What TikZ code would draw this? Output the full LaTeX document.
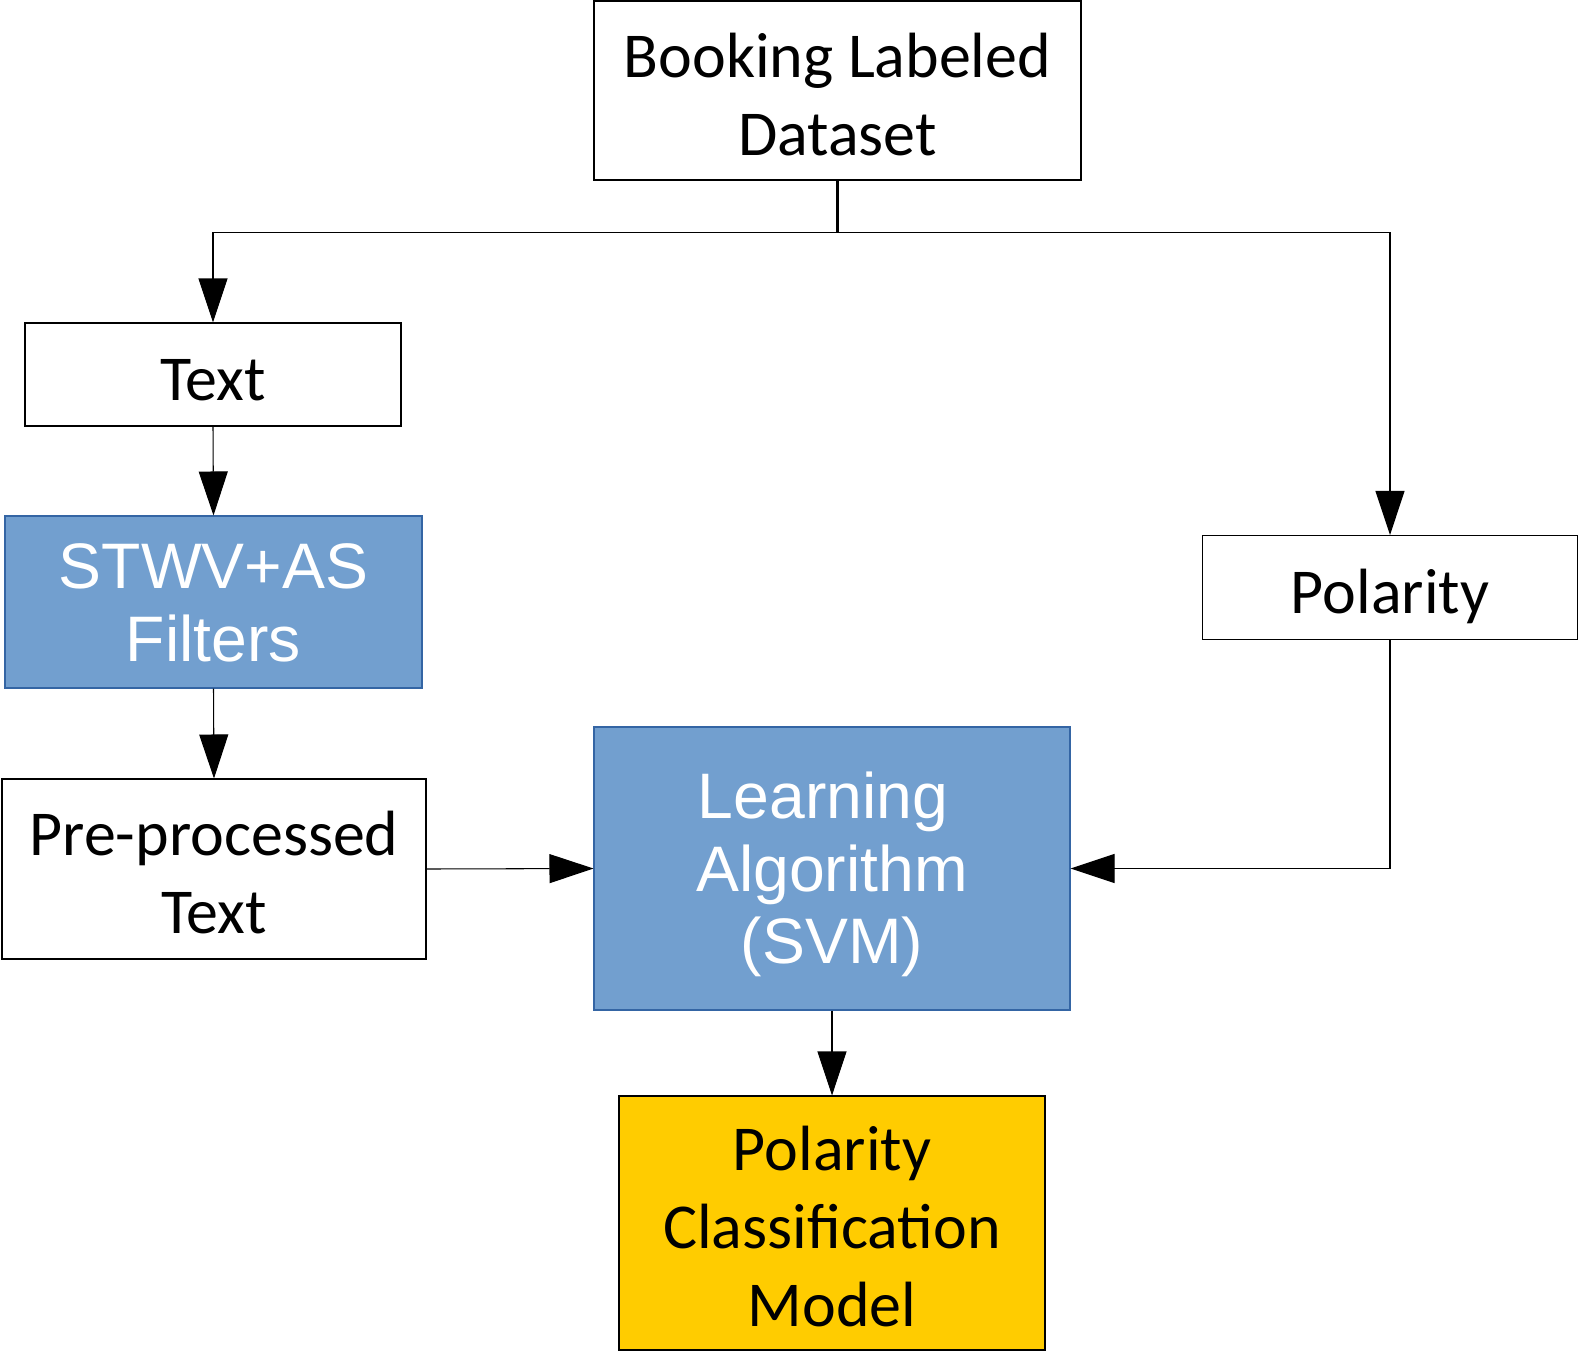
\documentclass[tikz,border=0pt]{standalone}
\usepackage{fontspec}
\setmainfont{Carlito}
\newfontfamily\boxsans{Liberation Sans}
\definecolor{flowBlue}{HTML}{729FCF}
\definecolor{flowBlueEdge}{HTML}{3465A4}
\definecolor{flowYellow}{HTML}{FFCC00}
\usetikzlibrary{arrows.meta, positioning, calc}
\newcommand{\topbs}{\rule[-0.2em]{0pt}{1.21em}}
\newcommand{\bs}{\rule[-0.2em]{0pt}{1.02em}}
\newcommand{\topws}{\rule[-0.212em]{0pt}{1.125em}}
\newcommand{\ws}{\rule[-0.212em]{0pt}{0.905em}}

\begin{document}
\begin{tikzpicture}[
    box/.style={
      draw=black,
      fill=white,
      text=black,
      align=center,
      font=\fontsize{36.4}{44.4}\selectfont,
      line width=0.6pt,
      inner sep=0pt,
    },
    procbox/.style={
      draw=flowBlueEdge,
      fill=flowBlue,
      text=white,
      align=center,
      font=\boxsans\fontsize{36.6}{41.5}\selectfont,
      line width=0.6pt,
      inner sep=0pt,
    },
    modelbox/.style={box, fill=flowYellow},
    arr/.style={-{Triangle[length=0.88cm, width=0.58cm]}, black, line width=0.6pt},
  ]
    \useasboundingbox (0,0) rectangle (31.58,-27.04);

    \node[box, minimum width=9.74cm, minimum height=3.58cm] (book) at (16.75,-1.81) {
      \topbs Booking Labeled\\
      \bs Dataset
    };

    \node[box, minimum width=7.52cm, minimum height=2.06cm] (text) at (4.26,-7.49) {\topbs Text};

    \node[procbox, minimum width=8.34cm, minimum height=3.44cm] (stwv) at (4.27,-12.04) {
      \topws STWV+AS\\
      \ws Filters
    };

    \node[box, minimum width=8.48cm, minimum height=3.6cm] (pre) at (4.28,-17.38) {
      \topbs Pre-processed\\
      \bs Text
    };

    \node[box, minimum width=7.51cm, minimum height=2.08cm] (pol) at (27.8,-11.75) {\topbs Polarity};

    \node[procbox, minimum width=9.52cm, minimum height=5.66cm] (learn) at (16.64,-17.37) {
      \topws Learning\hspace*{0.278em}\\
      \ws Algorithm\\
      \ws (SVM)
    };

    \node[modelbox, minimum width=8.52cm, minimum height=5.08cm] (model) at (16.64,-24.46) {
      \topbs Polarity\\
      \bs Classification\\
      \bs Model
    };

    \coordinate (split) at ($(book.south)+(0,-1.04)$);

    \draw[line width=1.7pt] (book.south) -- (split);
    \draw[arr] (split) -| (text.north);
    \draw[arr] (split) -| (pol.north);
    \draw[arr] (text.south) -- (stwv.north);
    \draw[arr] (stwv.south) -- (pre.north);
    \draw[arr] (pre.east) -- (learn.west);
    \draw[arr] (pol.south) |- (learn.east);
    \draw[arr] (learn.south) -- (model.north);
  \end{tikzpicture}
\end{document}
